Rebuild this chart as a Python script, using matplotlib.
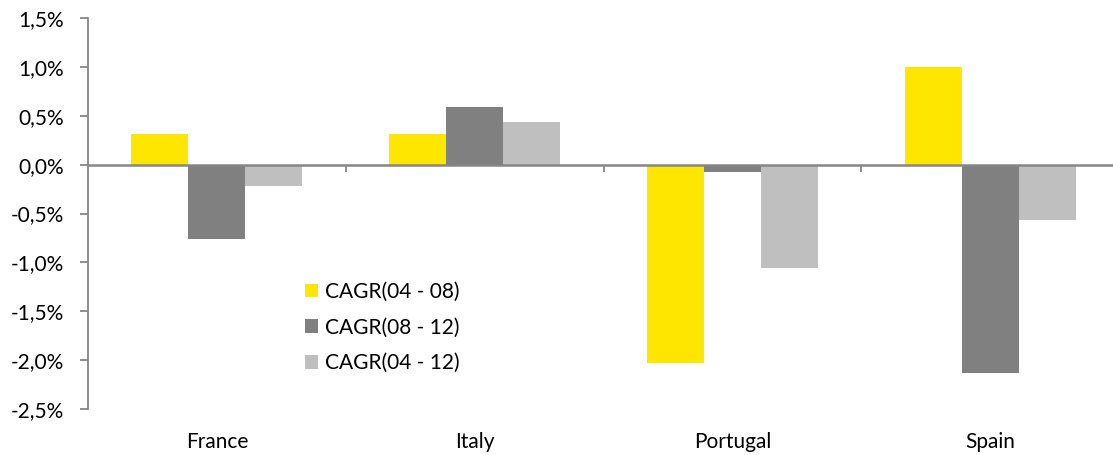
import matplotlib
matplotlib.use("Agg")
import matplotlib.pyplot as plt
import matplotlib.transforms as mtransforms
from matplotlib.ticker import FixedLocator, FuncFormatter, MultipleLocator
from matplotlib.patches import Patch
import numpy as np

plt.rcParams['font.family'] = ['Lato', 'DejaVu Sans']

countries = ["France", "Italy", "Portugal", "Spain"]
series_names = ["CAGR(04 - 08)", "CAGR(08 - 12)", "CAGR(04 - 12)"]
cagr_04_08 = [0.31, 0.31, -2.03, 1.00]
cagr_08_12 = [-0.76, 0.59, -0.08, -2.13]
cagr_04_12 = [-0.22, 0.44, -1.06, -0.57]
colors = ["#FFE600", "#808080", "#BFBFBF"]

W, H = 1113, 455
fig = plt.figure(figsize=(W / 100, H / 100), dpi=100)
left, right, top, bottom = 88, 1119, 18, 409
ax = fig.add_axes([left / W, (H - bottom) / H, (right - left) / W, (bottom - top) / H])

x = np.arange(len(countries))
bw = 0.221
for k, (vals, c) in enumerate(zip([cagr_04_08, cagr_08_12, cagr_04_12], colors)):
    ax.bar(x + (k - 1) * bw, vals, width=bw, color=c, edgecolor="none", zorder=2)

ax.set_xlim(-0.5, len(countries) - 0.5)
ax.set_ylim(-2.5, 1.5)

axis_col = "#868686"
fs = 15
for s in ["top", "right"]:
    ax.spines[s].set_visible(False)
ax.spines["left"].set_color(axis_col)
ax.spines["left"].set_linewidth(1.3)
ax.spines["bottom"].set_position(("data", 0))
ax.spines["bottom"].set_color(axis_col)
ax.spines["bottom"].set_linewidth(1.8)
ax.spines["bottom"].set_zorder(3)

ax.yaxis.set_major_locator(MultipleLocator(0.5))
ax.yaxis.set_major_formatter(FuncFormatter(lambda v, p: f"{v:.1f}%".replace(".", ",")))
ax.tick_params(axis="y", direction="out", length=6, width=1.3, color=axis_col,
               labelsize=fs, pad=11, labelcolor="#000000")

ax.xaxis.set_major_locator(FixedLocator(x))
ax.xaxis.set_minor_locator(FixedLocator(np.arange(0.5, len(countries) - 0.5, 1)))
ax.tick_params(axis="x", which="major", length=0, labelbottom=False)
ax.tick_params(axis="x", which="minor", direction="out", length=5, width=1.3, color=axis_col)

trans = mtransforms.blended_transform_factory(ax.transData, ax.transAxes)
for i, name in enumerate(countries):
    ax.text(i, -33 / (bottom - top), name, transform=trans, ha="center", va="center",
            fontsize=fs, color="#000000")

handles = [Patch(facecolor=c, edgecolor="none") for c in colors]
fig.legend(handles, series_names, loc="upper left",
           bbox_to_anchor=(305 / W, 1 - 282 / H), frameon=False, fontsize=fs,
           handlelength=0.63, handleheight=0.63, handletextpad=0.35, labelspacing=0.75,
           borderaxespad=0, borderpad=0)

fig.savefig("out.png", dpi=100)
